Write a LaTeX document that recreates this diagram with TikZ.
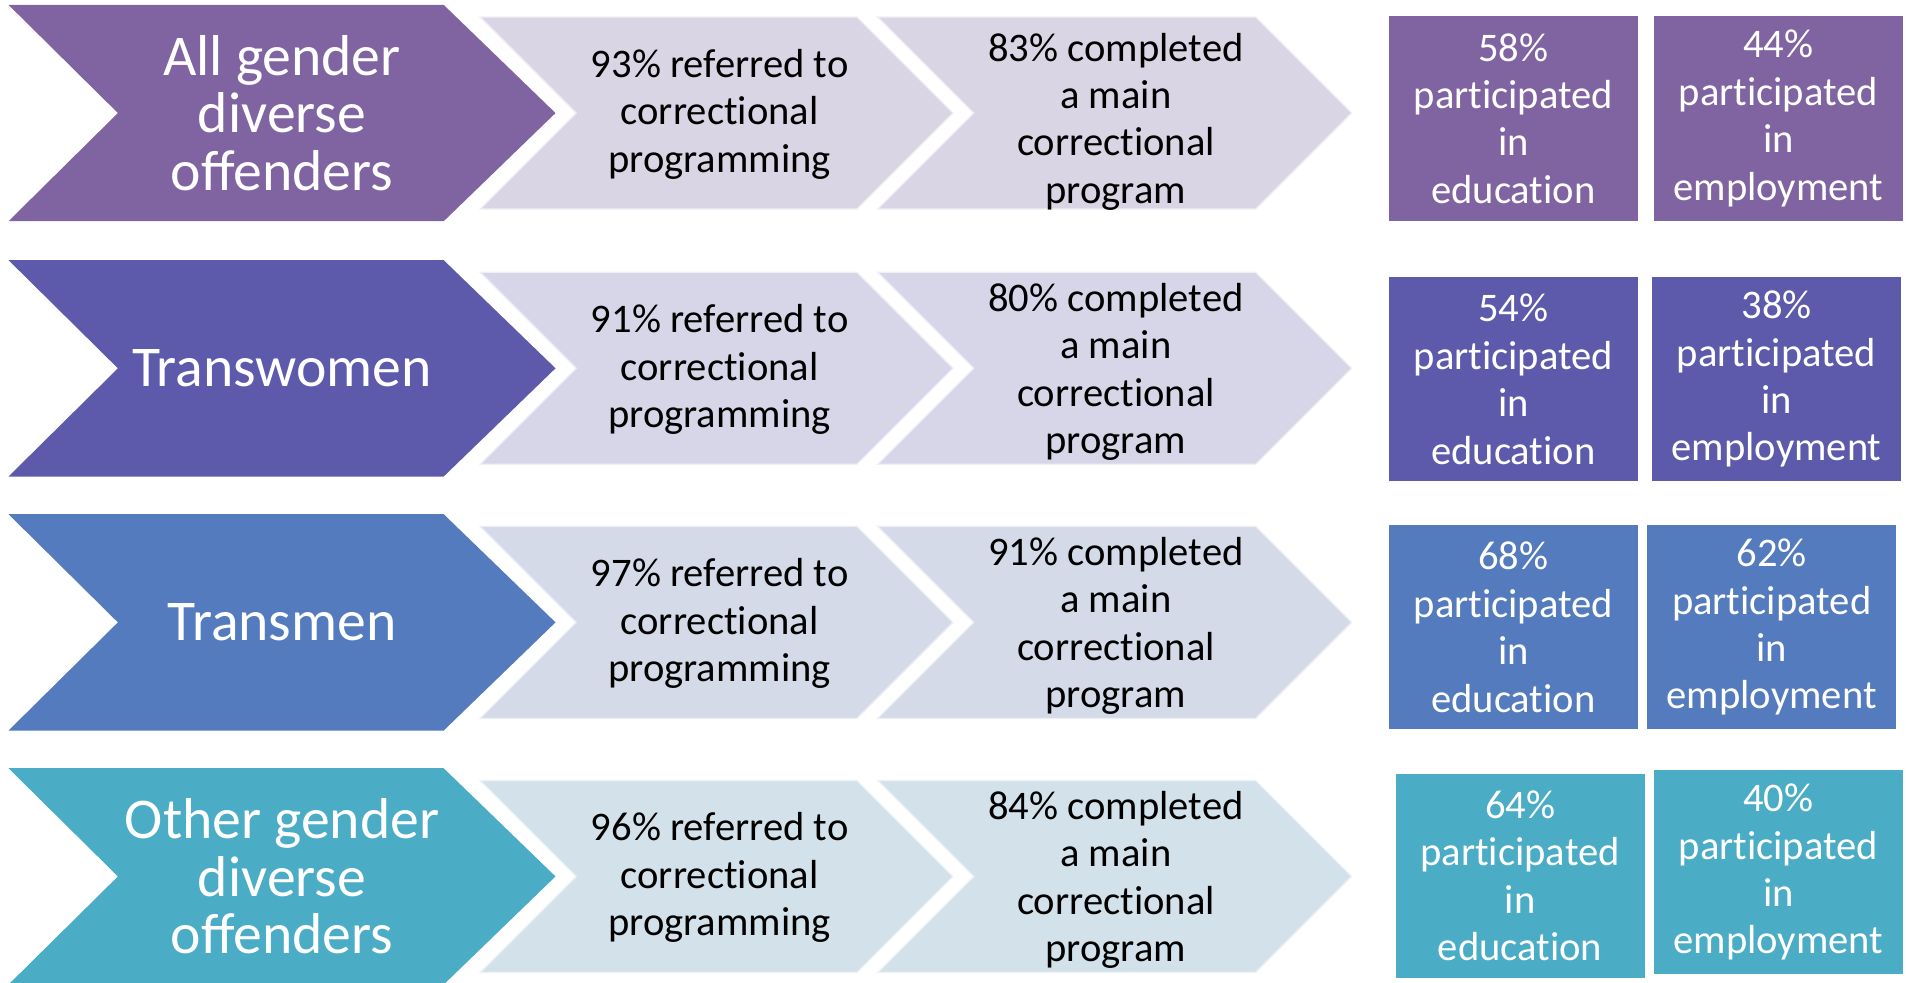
\documentclass[tikz,border=0pt]{standalone}
\usepackage{fontspec}
\setmainfont{Carlito}
\usetikzlibrary{positioning}

% breaks the t-i ligature of Carlito
\newcommand{\nolg}{\kern0pt}

\definecolor{grpA}{HTML}{8064A2}
\definecolor{grpB}{HTML}{5E5AAB}
\definecolor{grpC}{HTML}{537BBD}
\definecolor{grpD}{HTML}{4BACC6}
\definecolor{lightA}{HTML}{DAD5E4}
\definecolor{lightB}{HTML}{D6D6E8}
\definecolor{lightC}{HTML}{D4DAE8}
\definecolor{lightD}{HTML}{D3E2EA}

\begin{document}
\begin{tikzpicture}[x=0.02cm, y=-0.02cm,
    bigtext/.style={text=white, align=center, font=\fontsize{27}{27}\selectfont},
    steptext/.style={text=black, align=center, font=\fontsize{19}{22.2}\selectfont},
    rate/.style={text=white, align=center, minimum width=4.1cm, minimum height=3.36cm,
        inner sep=0pt, font=\fontsize{19}{22.2}\selectfont},
    lightchev/.style={draw=white!60!#1, line width=0.6pt, fill=#1}]

\useasboundingbox (0,0) rectangle (1568,808);

% All gender diverse offenders
\fill[grpA] (7,4) -- (365,4) -- (457,93) -- (365,182) -- (7,182) -- (97,93) -- cycle;
\filldraw[lightchev=lightA] (395,14) -- (705,14) -- (784,93) -- (705,172) -- (395,172) -- (474,93) -- cycle;
\filldraw[lightchev=lightA] (722,14) -- (1033,14) -- (1112,93) -- (1033,172) -- (722,172) -- (801,93) -- cycle;
\node[bigtext] (allA) at (232,93) {All gender\\diverse\\offenders};
\node[steptext] (refA) at (592,94) {93\% referred to\\correct\nolg ional\\programming};
\node[steptext] (compA) at (918,100) {83\% completed\\a main\\correct\nolg ional\\program};
\node[rate, fill=grpA] (eduA) at (1245,97.5) {58\%\\part\nolg icipated\\in\\educat\nolg ion};
\node[rate, fill=grpA] (empA) at (1463,97.5) {44\%\\part\nolg icipated\\in\\employment};

% Transwomen
\fill[grpB] (7,214) -- (365,214) -- (457,303) -- (365,392) -- (7,392) -- (97,303) -- cycle;
\filldraw[lightchev=lightB] (395,224) -- (705,224) -- (784,303) -- (705,382) -- (395,382) -- (474,303) -- cycle;
\filldraw[lightchev=lightB] (722,224) -- (1033,224) -- (1112,303) -- (1033,382) -- (722,382) -- (801,303) -- cycle;
\node[bigtext] (allB) at (232,303) {Transwomen};
\node[steptext] (refB) at (592,304) {91\% referred to\\correct\nolg ional\\programming};
\node[steptext] (compB) at (918,306) {80\% completed\\a main\\correct\nolg ional\\program};
\node[rate, fill=grpB] (eduB) at (1245,312) {54\%\\part\nolg icipated\\in\\educat\nolg ion};
\node[rate, fill=grpB] (empB) at (1461.5,312) {38\%\\part\nolg icipated\\in\\employment};

% Transmen
\fill[grpC] (7,423) -- (365,423) -- (457,512) -- (365,601) -- (7,601) -- (97,512) -- cycle;
\filldraw[lightchev=lightC] (395,433) -- (705,433) -- (784,512) -- (705,591) -- (395,591) -- (474,512) -- cycle;
\filldraw[lightchev=lightC] (722,433) -- (1033,433) -- (1112,512) -- (1033,591) -- (722,591) -- (801,512) -- cycle;
\node[bigtext] (allC) at (232,512) {Transmen};
\node[steptext] (refC) at (592,513) {97\% referred to\\correct\nolg ional\\programming};
\node[steptext] (compC) at (918,515) {91\% completed\\a main\\correct\nolg ional\\program};
\node[rate, fill=grpC] (eduC) at (1245,516) {68\%\\part\nolg icipated\\in\\educat\nolg ion};
\node[rate, fill=grpC] (empC) at (1457.5,516) {62\%\\part\nolg icipated\\in\\employment};

% Other gender diverse offenders
\fill[grpD] (7,632) -- (365,632) -- (457,721) -- (365,810) -- (7,810) -- (97,721) -- cycle;
\filldraw[lightchev=lightD] (395,642) -- (705,642) -- (784,721) -- (705,800) -- (395,800) -- (474,721) -- cycle;
\filldraw[lightchev=lightD] (722,642) -- (1033,642) -- (1112,721) -- (1033,800) -- (722,800) -- (801,721) -- cycle;
\node[bigtext] (allD) at (232,721) {Other gender\\diverse\\offenders};
\node[steptext] (refD) at (592,722) {96\% referred to\\correct\nolg ional\\programming};
\node[steptext] (compD) at (918,724) {84\% completed\\a main\\correct\nolg ional\\program};
\node[rate, fill=grpD] (eduD) at (1250.5,720.5) {64\%\\part\nolg icipated\\in\\educat\nolg ion};
\node[rate, fill=grpD] (empD) at (1463,717.5) {40\%\\part\nolg icipated\\in\\employment};

\end{tikzpicture}
\end{document}
